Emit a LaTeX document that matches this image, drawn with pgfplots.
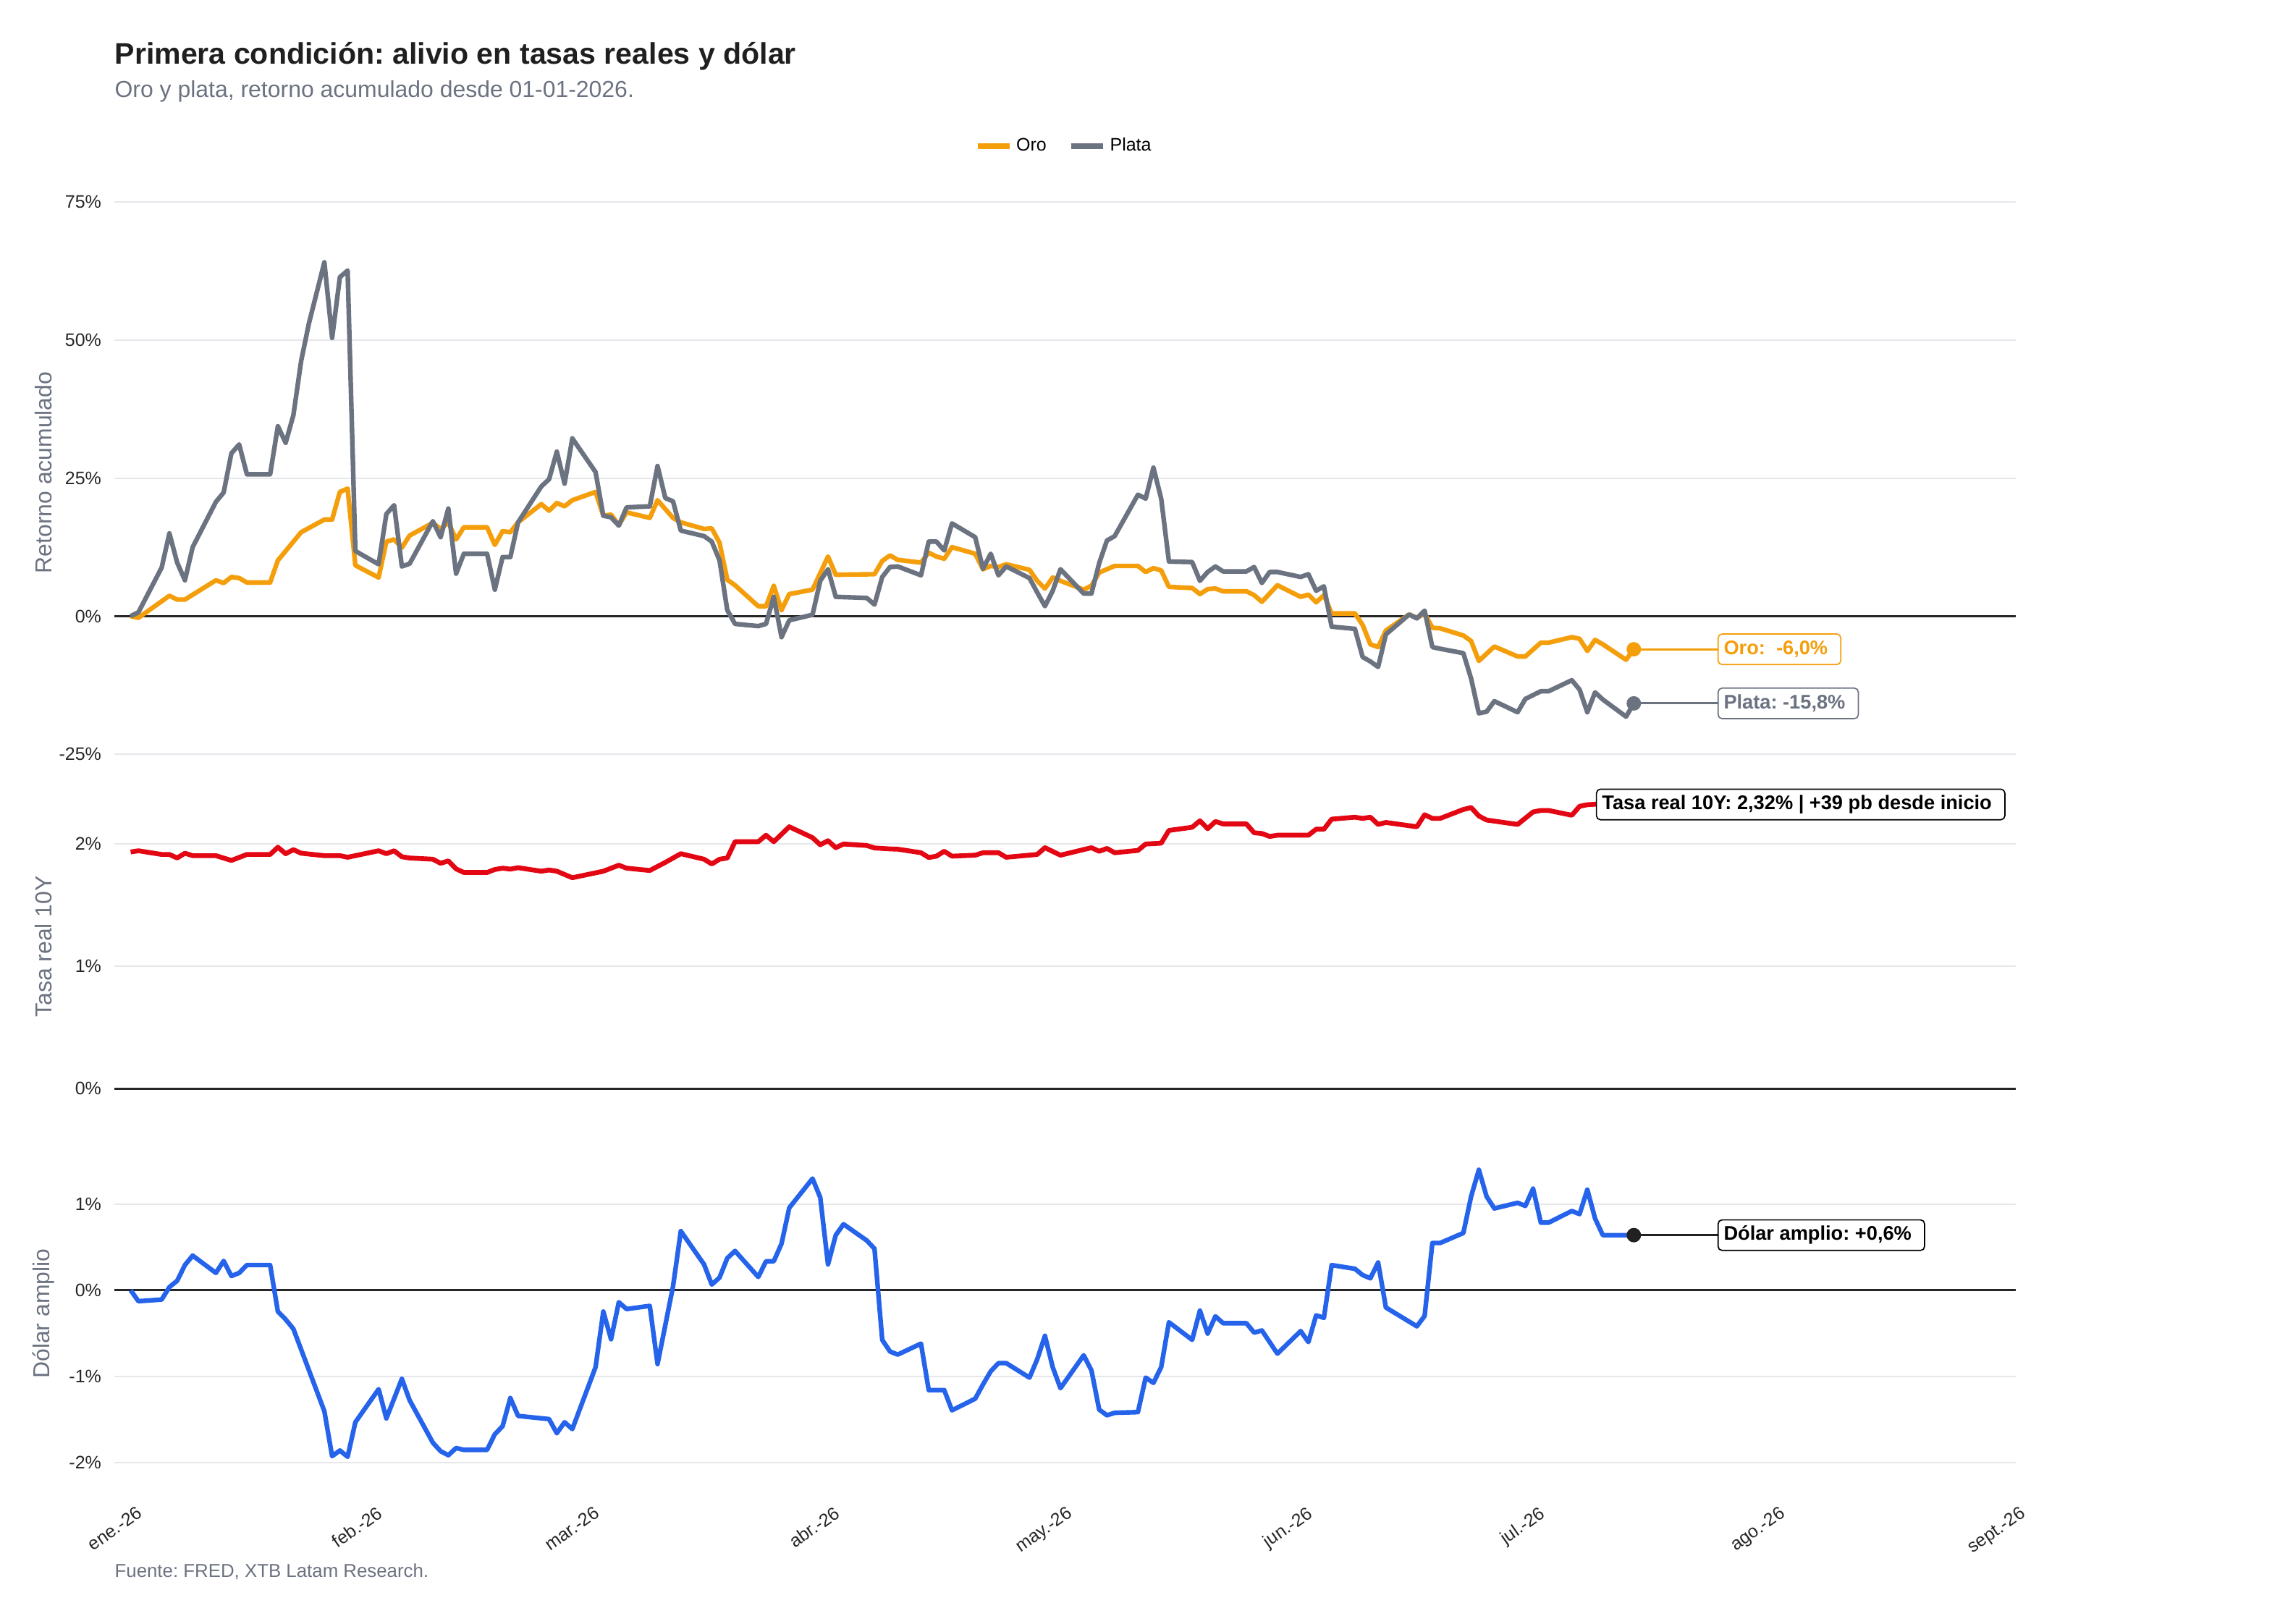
\documentclass[border=0pt]{standalone}
\usepackage{pgfplots}
\pgfplotsset{compat=1.18}
\usepackage{fontspec}
\setmainfont{Liberation Sans}
\frenchspacing
\definecolor{oro}{HTML}{F59E0B}
\definecolor{plata}{HTML}{6B7280}
\definecolor{tasa}{HTML}{E30613}
\definecolor{dolar}{HTML}{2563EB}
\definecolor{gridc}{HTML}{E5E7EB}
\definecolor{labc}{HTML}{6B7280}
\definecolor{tickc}{HTML}{262626}
\definecolor{titc}{HTML}{1F1F1F}
\pgfplotsset{
  panel/.style={
    scale only axis, width=945.7pt,
    xmin=-2.1, xmax=243.3,
    axis line style={draw=none},
    major tick length=0pt, minor tick length=0pt,
    tick style={draw=none},
    ymajorgrids, xmajorgrids=false,
    grid style={gridc, line width=0.7pt},
    xtick={0,31,59,90,120,151,181,212,243},
    xticklabels={},
    yticklabel style={font=\fontsize{9}{10}\selectfont, text=tickc, xshift=-3pt},
    ylabel style={at={(axis description cs:-0.0373,0.5)}, anchor=center, font=\fontsize{11.5}{13}\selectfont, text=labc},
    extra y ticks={0}, extra y tick labels={},
    extra y tick style={major grid style={black!85, line width=1pt}},
    clip mode=individual,
  },
}
\tikzset{
  annbox/.style={anchor=west, fill=white, rounded corners=2pt, line width=0.6pt, font=\fontsize{9.8}{11}\selectfont\bfseries, inner xsep=2.8pt, inner ysep=3pt, text height=7.2pt, text depth=2pt, execute at end node={\kern3.7pt}},
}
\begin{document}
\begin{tikzpicture}
\path[use as bounding box] (0pt,0pt) rectangle (1140.48pt,-807.84pt);
\node[anchor=base west, inner sep=0pt, font=\fontsize{14.8}{17}\selectfont\bfseries, text=titc] at (56.9pt,-32pt) {Primera condición: alivio en tasas reales y dólar};
\node[anchor=base west, inner sep=0pt, font=\fontsize{11.5}{13}\selectfont, text=labc] at (56.9pt,-48.5pt) {Oro y plata, retorno acumulado desde 01-01-2026.};
\node[anchor=base west, inner sep=0pt, font=\fontsize{9.3}{11}\selectfont, text=labc] at (56.9pt,-784.5pt) {Fuente: FRED, XTB Latam Research.};

% ---------- Panel 1: retorno acumulado ----------
\begin{axis}[panel, at={(56.9pt,-86.8pt)}, anchor=north west, height=296.6pt,
  ymin=-28, ymax=80, ytick={-25,0,25,50,75}, yticklabels={-25\%,0\%,25\%,50\%,75\%},
  ylabel={Retorno acumulado},
  legend style={at={(0.5,1.0475)}, anchor=center, draw=none, fill=none, legend columns=2,
    font=\fontsize{9}{10}\selectfont, /tikz/every even column/.append style={column sep=9pt}},
  legend image code/.code={\draw[#1, line width=2.6pt] (0pt,0pt) -- (16pt,0pt);},
]
\addplot[oro, line width=2.3pt, line join=round] coordinates {
(0,0.0)(1,-0.3)(5,3.7)(6,3.0)(7,3.0)(11,6.5)(12,6.0)(13,7.1)(14,6.9)(15,6.1)(18,6.1)(19,10.1)(22,15.2)(25,17.5)(26,17.5)(27,22.5)(28,23.1)(29,9.2)(32,7.0)(33,13.5)(34,13.9)(35,12.4)(36,14.6)(39,16.9)(40,15.8)(41,17.0)(42,13.9)(43,16.1)(46,16.1)(47,12.9)(48,15.4)(49,15.2)(50,17.0)(53,20.3)(54,19.1)(55,20.5)(56,19.9)(57,21.0)(60,22.5)(61,18.2)(62,18.4)(63,16.5)(64,18.8)(67,17.8)(68,21.0)(69,19.4)(70,17.8)(71,17.0)(74,15.8)(75,15.9)(76,13.3)(77,6.6)(78,5.6)(81,1.8)(82,1.8)(83,5.5)(84,1.1)(85,4.0)(88,4.8)(90,10.8)(91,7.5)(96,7.6)(97,10.0)(98,11.0)(99,10.2)(102,9.7)(103,11.5)(104,10.8)(105,10.4)(106,12.5)(109,11.3)(110,8.5)(111,9.1)(112,8.9)(113,9.4)(116,8.4)(117,6.4)(118,5.0)(119,7.0)(120,6.4)(123,4.8)(124,5.5)(125,7.9)(127,9.1)(130,9.1)(131,8.0)(132,8.7)(133,8.3)(134,5.3)(137,5.1)(138,4.0)(139,4.9)(140,5.0)(141,4.5)(144,4.5)(145,3.8)(146,2.6)(147,4.1)(148,5.6)(151,3.5)(152,3.9)(153,2.5)(154,3.8)(155,0.5)(158,0.5)(159,-1.6)(160,-5.1)(161,-5.6)(162,-2.6)(165,0.3)(166,-0.3)(167,0.5)(168,-2.1)(169,-2.2)(172,-3.5)(173,-4.5)(174,-8.1)(176,-5.5)(179,-7.3)(180,-7.3)(182,-4.8)(183,-4.8)(186,-3.8)(187,-4.1)(188,-6.3)(189,-4.3)(190,-5.1)(193,-7.9)(194,-6.0)
};
\addlegendentry{Oro}
\addplot[plata, line width=2.3pt, line join=round] coordinates {
(0,0.0)(1,0.7)(4,8.8)(5,15.0)(6,9.7)(7,6.5)(8,12.5)(11,20.7)(12,22.4)(13,29.5)(14,31.1)(15,25.7)(18,25.7)(19,34.4)(20,31.4)(21,36.4)(22,46.2)(23,53.0)(25,64.1)(26,50.4)(27,61.4)(28,62.6)(29,11.8)(32,9.4)(33,18.5)(34,20.1)(35,9.0)(36,9.5)(39,17.2)(40,14.3)(41,19.5)(42,7.7)(43,11.3)(46,11.3)(47,4.8)(48,10.7)(49,10.7)(50,17.0)(53,23.5)(54,24.8)(55,29.8)(56,24.0)(57,32.2)(60,26.1)(61,18.2)(62,17.9)(63,16.4)(64,19.7)(67,19.9)(68,27.2)(69,21.4)(70,20.8)(71,15.5)(74,14.5)(75,13.5)(76,10.1)(77,1.1)(78,-1.4)(81,-1.8)(82,-1.4)(83,3.5)(84,-3.8)(85,-0.75)(88,0.25)(89,6.4)(90,8.5)(91,3.5)(95,3.3)(96,2.1)(97,7.1)(98,8.9)(99,9.0)(102,7.4)(103,13.5)(104,13.5)(105,11.9)(106,16.8)(109,14.3)(110,8.6)(111,11.3)(112,7.4)(113,9.0)(116,6.9)(117,4.3)(118,1.8)(119,4.6)(120,8.5)(123,4.1)(124,4.1)(125,9.6)(126,13.7)(127,14.5)(130,22.0)(131,21.3)(132,26.9)(133,21.3)(134,9.9)(137,9.8)(138,6.4)(139,8.0)(140,9.0)(141,8.1)(144,8.1)(145,8.9)(146,6.0)(147,8.0)(148,8.0)(151,7.1)(152,7.6)(153,4.6)(154,5.4)(155,-1.9)(158,-2.3)(159,-7.4)(160,-8.2)(161,-9.2)(162,-3.3)(165,0.3)(166,-0.4)(167,1.0)(168,-5.6)(169,-5.9)(172,-6.7)(173,-11.3)(174,-17.6)(175,-17.3)(176,-15.4)(179,-17.4)(180,-15.0)(182,-13.6)(183,-13.6)(186,-11.6)(187,-13.3)(188,-17.4)(189,-13.8)(190,-15.1)(193,-18.2)(194,-15.8)
};
\addlegendentry{Plata}
\addplot[oro, line width=1.1pt, forget plot] coordinates {(194,-6.0) (204.8,-6.0)};
\addplot[oro, only marks, mark=*, mark size=3.4pt, forget plot] coordinates {(194,-6.0)};
\addplot[plata, line width=1.1pt, forget plot] coordinates {(194,-15.8) (204.8,-15.8)};
\addplot[plata, only marks, mark=*, mark size=3.4pt, forget plot] coordinates {(194,-15.8)};
\node[annbox, draw=oro, text=oro] at (axis cs:204.8,-6.0) {Oro:\ \ -6,0\%};
\node[annbox, draw=plata, text=plata] at (axis cs:204.8,-15.8) {Plata: -15,8\%};
\end{axis}

% ---------- Panel 2: tasa real ----------
\begin{axis}[panel, at={(56.9pt,-393.1pt)}, anchor=north west, height=155.5pt,
  ymin=-0.116, ymax=2.436, ytick={0,1,2}, yticklabels={0\%,1\%,2\%},
  ylabel={Tasa real 10Y}]
\addplot[tasa, line width=2.4pt, line join=round] coordinates {
(0,1.932)(1,1.942)(4,1.912)(5,1.912)(6,1.883)(7,1.922)(8,1.902)(11,1.902)(13,1.863)(15,1.912)(18,1.912)(19,1.971)(20,1.918)(21,1.951)(22,1.922)(25,1.902)(27,1.902)(28,1.889)(32,1.942)(33,1.918)(34,1.942)(35,1.893)(36,1.883)(39,1.873)(40,1.840)(41,1.859)(42,1.794)(43,1.765)(46,1.765)(47,1.789)(48,1.800)(49,1.792)(50,1.804)(53,1.775)(54,1.785)(55,1.775)(57,1.722)(61,1.775)(63,1.824)(64,1.800)(67,1.781)(69,1.847)(71,1.918)(74,1.873)(75,1.834)(76,1.873)(77,1.883)(78,2.016)(81,2.016)(82,2.069)(83,2.016)(85,2.138)(88,2.049)(89,1.991)(90,2.024)(91,1.967)(92,1.997)(95,1.985)(96,1.965)(98,1.957)(99,1.955)(102,1.926)(103,1.887)(104,1.898)(105,1.938)(106,1.898)(109,1.906)(110,1.926)(112,1.926)(113,1.889)(117,1.912)(118,1.967)(120,1.906)(124,1.967)(125,1.938)(126,1.961)(127,1.926)(130,1.945)(131,1.997)(133,2.004)(134,2.108)(137,2.134)(138,2.187)(139,2.122)(140,2.181)(141,2.161)(144,2.161)(145,2.089)(146,2.083)(147,2.059)(148,2.069)(151,2.069)(152,2.069)(153,2.118)(154,2.118)(155,2.200)(158,2.216)(159,2.206)(160,2.216)(161,2.157)(162,2.173)(166,2.138)(167,2.236)(168,2.206)(169,2.206)(172,2.279)(173,2.295)(174,2.226)(175,2.193)(179,2.157)(181,2.259)(182,2.271)(183,2.271)(186,2.232)(187,2.305)(188,2.318)(189,2.322)(190,2.32)(193,2.32)(194,2.32)
};
\node[annbox, draw=black, text=black] at (axis cs:189.1,2.32) {Tasa real 10Y: 2,32\% | +39 pb desde inicio};
\end{axis}

% ---------- Panel 3: dolar amplio ----------
\begin{axis}[panel, at={(56.9pt,-574.9pt)}, anchor=north west, height=157pt,
  ymin=-2.10, ymax=1.56, ytick={-2,-1,0,1}, yticklabels={-2\%,-1\%,0\%,1\%},
  ylabel={Dólar amplio},
  xticklabels={ene.-26,feb.-26,mar.-26,abr.-26,may.-26,jun.-26,jul.-26,ago.-26,sept.-26},
  xticklabel style={rotate=35, anchor=north east, font=\fontsize{9}{10}\selectfont, text=tickc, xshift=-4pt, yshift=-12pt},
]
\addplot[dolar, line width=2.3pt, line join=round] coordinates {
(0,0.0)(1,-0.127)(4,-0.108)(5,0.037)(6,0.110)(7,0.292)(8,0.402)(11,0.201)(12,0.340)(13,0.165)(14,0.201)(15,0.292)(18,0.292)(19,-0.247)(20,-0.338)(21,-0.448)(25,-1.403)(26,-1.924)(27,-1.858)(28,-1.931)(29,-1.530)(32,-1.147)(33,-1.486)(34,-1.257)(35,-1.027)(36,-1.275)(39,-1.767)(40,-1.866)(41,-1.913)(42,-1.829)(43,-1.851)(46,-1.851)(47,-1.669)(48,-1.577)(49,-1.249)(50,-1.457)(54,-1.494)(55,-1.658)(56,-1.530)(57,-1.610)(60,-0.892)(61,-0.247)(62,-0.568)(63,-0.138)(64,-0.218)(67,-0.181)(68,-0.856)(70,0.045)(71,0.686)(74,0.300)(75,0.066)(76,0.147)(77,0.372)(78,0.456)(81,0.154)(82,0.336)(83,0.336)(84,0.540)(85,0.956)(88,1.295)(89,1.076)(90,0.300)(91,0.639)(92,0.766)(95,0.577)(96,0.482)(97,-0.575)(98,-0.710)(99,-0.746)(102,-0.619)(103,-1.158)(105,-1.158)(106,-1.392)(109,-1.257)(110,-1.093)(111,-0.940)(112,-0.845)(113,-0.845)(116,-1.013)(117,-0.801)(118,-0.528)(119,-0.892)(120,-1.136)(123,-0.754)(124,-0.929)(125,-1.384)(126,-1.450)(127,-1.421)(130,-1.413)(131,-1.013)(132,-1.074)(133,-0.892)(134,-0.371)(137,-0.575)(138,-0.236)(139,-0.502)(140,-0.302)(141,-0.382)(144,-0.382)(145,-0.491)(146,-0.466)(148,-0.735)(151,-0.473)(152,-0.601)(153,-0.291)(154,-0.320)(155,0.292)(158,0.249)(159,0.176)(160,0.139)(161,0.322)(162,-0.200)(166,-0.418)(167,-0.298)(168,0.548)(169,0.548)(172,0.664)(173,1.087)(174,1.397)(175,1.087)(176,0.949)(179,1.014)(180,0.978)(181,1.178)(182,0.784)(183,0.784)(186,0.919)(187,0.883)(188,1.167)(189,0.832)(190,0.639)(193,0.639)(194,0.639)
};
\addplot[black!87, line width=1.1pt] coordinates {(194,0.639) (204.8,0.639)};
\addplot[black!87, only marks, mark=*, mark size=3.4pt] coordinates {(194,0.639)};
\node[annbox, draw=black, text=black] at (axis cs:204.8,0.639) {Dólar amplio: +0,6\%};
\end{axis}
\end{tikzpicture}
\end{document}
